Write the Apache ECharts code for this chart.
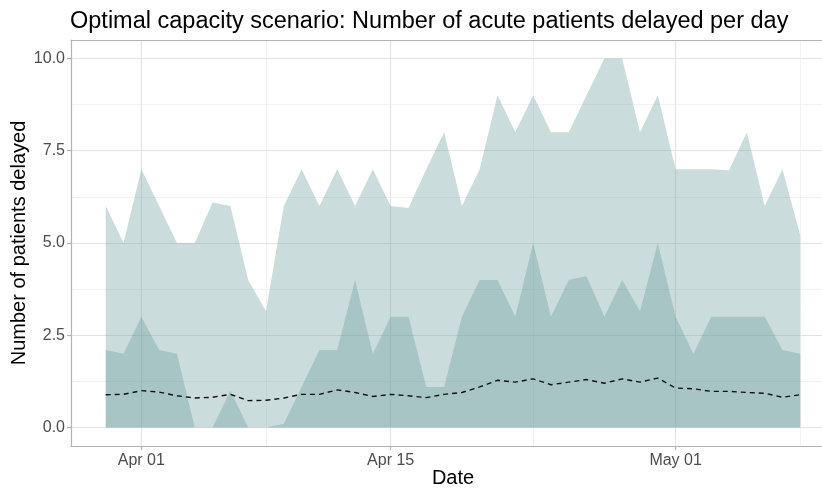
<!DOCTYPE html>
<html>
<head>
<meta charset="utf-8">
<script src="https://cdn.jsdelivr.net/npm/echarts@6/dist/echarts.min.js"></script>
<style>
html,body{margin:0;padding:0;background:#fff;}
#chart{width:822px;height:489px;}
</style>
</head>
<body>
<div id="chart"></div>
<script>
// ---- data ----
const startDate = [2020, 2, 30]; // 30 Mar 2020, daily observations
const outerUpper = [6, 5, 7, 6, 5, 5, 6.1, 6, 4, 3.15, 6, 7, 6, 7, 6, 7, 6, 5.95, 7, 8,
                    6, 7, 9, 8, 9, 8, 8, 9, 10, 10, 8, 9, 7, 7, 7, 6.97, 8, 6, 7, 5.2];
const innerUpper = [2.1, 2, 3, 2.1, 2, 0, 0, 1, 0, 0, 0.1, 1.1, 2.1, 2.1, 4, 2, 3, 3, 1.1, 1.1,
                    3, 4, 4, 3, 5, 3, 4, 4.1, 3, 4, 3.15, 5, 3, 2, 3, 3, 3, 3, 2.1, 2];
const median = [0.89, 0.9, 1.0, 0.96, 0.86, 0.8, 0.82, 0.9, 0.73, 0.74, 0.8, 0.9, 0.9, 1.02, 0.95, 0.84, 0.9, 0.86, 0.81, 0.9,
                0.95, 1.1, 1.28, 1.23, 1.32, 1.16, 1.23, 1.3, 1.2, 1.32, 1.23, 1.34, 1.07, 1.05, 0.98, 0.98, 0.95, 0.93, 0.82, 0.89];
const yTicks = [0, 2.5, 5, 7.5, 10];
const yMinorTicks = [1.25, 3.75, 6.25, 8.75];
const xTickDates = [[2020, 3, 1], [2020, 3, 15], [2020, 4, 1]];
const xMinorDates = [[2020, 3, 8], [2020, 3, 23], [2020, 4, 8]];
const monthNames = ['Jan','Feb','Mar','Apr','May','Jun','Jul','Aug','Sep','Oct','Nov','Dec'];

const DAY = 86400000;
const t0 = Date.UTC(startDate[0], startDate[1], startDate[2]);
const dates = outerUpper.map((_, i) => t0 + i * DAY);
const xTicks = xTickDates.map(d => Date.UTC(d[0], d[1], d[2]));
const xMinor = xMinorDates.map(d => Date.UTC(d[0], d[1], d[2]));
const span = dates[dates.length - 1] - dates[0];
const xMin = dates[0] - 0.05 * span;
const xMax = dates[dates.length - 1] + 0.05 * span;

const pair = arr => arr.map((v, i) => [dates[i], v]);
const fillColor = 'rgba(102,156,156,0.35)';
const FONT = '"Liberation Sans", Arial, Helvetica, sans-serif';
const BORDER = '#b3b3b3';

const gridLines = [];
yTicks.forEach(v => gridLines.push({yAxis: v, lineStyle: {color: '#e3e3e3', width: 1.2, type: 'solid'}}));
yMinorTicks.forEach(v => gridLines.push({yAxis: v, lineStyle: {color: '#efefef', width: 0.8, type: 'solid'}}));
xTicks.forEach(v => gridLines.push({xAxis: v, lineStyle: {color: '#e3e3e3', width: 1.2, type: 'solid'}}));
xMinor.forEach(v => gridLines.push({xAxis: v, lineStyle: {color: '#efefef', width: 0.8, type: 'solid'}}));

const chart = echarts.init(document.getElementById('chart'), null, {renderer: 'canvas'});
chart.setOption({
  animation: false,
  backgroundColor: '#ffffff',
  textStyle: {fontFamily: FONT},
  title: {
    text: 'Optimal capacity scenario: Number of acute patients delayed per day',
    left: 70, top: 10, padding: 0,
    textStyle: {fontFamily: FONT, fontSize: 23.5, fontWeight: 'normal', color: '#000'}
  },
  grid: {
    left: 71, right: -13, top: 40, bottom: 43,
    outerBoundsMode: 'none', containLabel: false, show: false
  },
  xAxis: [
    {
      type: 'value', min: xMin, max: xMax, position: 'bottom',
      name: 'Date', nameLocation: 'middle', nameGap: 22, nameMoveOverlap: false,
      nameTextStyle: {fontFamily: FONT, fontSize: 20, color: '#000'},
      axisLine: {show: true, onZero: false, lineStyle: {color: BORDER, width: 1.2}},
      axisTick: {show: true, length: 4, customValues: xTicks, lineStyle: {color: BORDER, width: 1.2}},
      axisLabel: {
        customValues: xTicks, margin: 7, fontSize: 16, color: '#4d4d4d', fontFamily: FONT,
        formatter: v => { const d = new Date(v); return monthNames[d.getUTCMonth()] + ' ' + String(d.getUTCDate()).padStart(2, '0'); }
      },
      splitLine: {show: false}, minorSplitLine: {show: false}
    },
    {
      type: 'value', min: xMin, max: xMax, position: 'top',
      axisLine: {show: true, onZero: false, lineStyle: {color: BORDER, width: 1.2}},
      axisTick: {show: false}, axisLabel: {show: false}, splitLine: {show: false}
    }
  ],
  yAxis: {
    type: 'value', min: -0.5, max: 10.5,
    name: 'Number of patients delayed', nameLocation: 'middle', nameGap: 42, nameRotate: 90, nameMoveOverlap: false,
    nameTextStyle: {fontFamily: FONT, fontSize: 20, color: '#000'},
    axisLine: {show: true, onZero: false, lineStyle: {color: BORDER, width: 1.2}},
    axisTick: {show: true, length: 4, customValues: yTicks, lineStyle: {color: BORDER, width: 1.2}},
    axisLabel: {customValues: yTicks, margin: 6, fontSize: 16, color: '#4d4d4d', fontFamily: FONT,
      formatter: v => v.toFixed(1)},
    splitLine: {show: false}
  },
  series: [
    {
      name: 'grid', type: 'line', data: [], z: 0, silent: true,
      markLine: {z: 0, silent: true, symbol: ['none', 'none'], label: {show: false}, animation: false, data: gridLines}
    },
    {
      name: 'outer', type: 'line', data: pair(outerUpper), z: 2, symbol: 'none', silent: true,
      lineStyle: {width: 0, opacity: 0}, areaStyle: {color: fillColor, opacity: 1, origin: 0}
    },
    {
      name: 'inner', type: 'line', data: pair(innerUpper), z: 3, symbol: 'none', silent: true,
      lineStyle: {width: 0, opacity: 0}, areaStyle: {color: fillColor, opacity: 1, origin: 0}
    },
    {
      name: 'median', type: 'line', data: pair(median), z: 4, symbol: 'none', silent: true,
      lineStyle: {color: '#111', width: 1.4, type: [5, 4]}
    }
  ]
});
</script>
</body>
</html>
